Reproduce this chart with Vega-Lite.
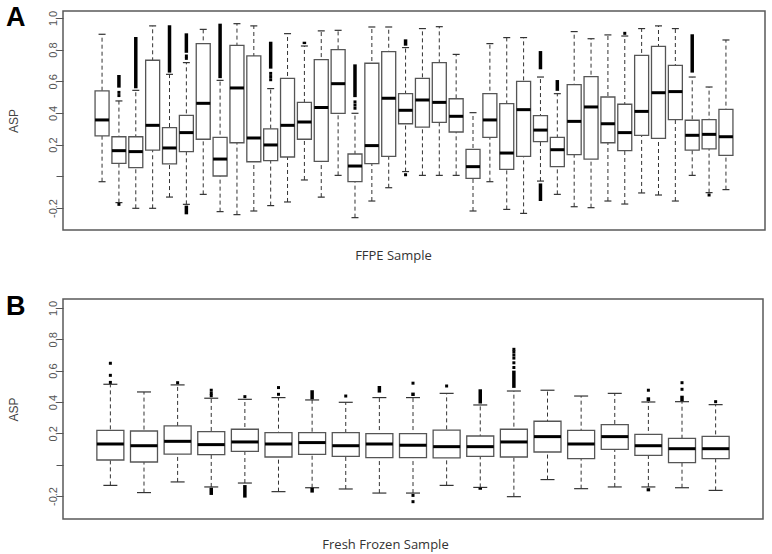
{
  "$schema": "https://vega.github.io/schema/vega-lite/v6.json",
  "padding": {"left": 5, "top": 3, "right": 0, "bottom": 0},
  "spacing": 29,
  "config": {
    "view": {"stroke": "#5a5a5a", "strokeWidth": 1.5},
    "axis": {"labelFont": "Liberation Sans", "labelFontSize": 11, "labelColor": "#555", "titleFont": "Liberation Sans", "titleFontSize": 12, "titleColor": "#444", "titleFontWeight": "normal", "tickColor": "#555", "tickSize": 7, "domain": false, "grid": false, "labelOverlap": false},
    "tick": {"opacity": 1},
    "point": {"opacity": 1}
  },
  "datasets": {
    "boxA": [
      {"i":1,"lo":-0.034,"q1":0.255,"med":0.356,"q3":0.539,"hi":0.897},
      {"i":2,"lo":-0.166,"q1":0.082,"med":0.162,"q3":0.250,"hi":0.476},
      {"i":3,"lo":-0.202,"q1":0.055,"med":0.156,"q3":0.250,"hi":0.543},
      {"i":4,"lo":-0.202,"q1":0.166,"med":0.322,"q3":0.733,"hi":0.950},
      {"i":5,"lo":-0.131,"q1":0.078,"med":0.179,"q3":0.307,"hi":0.644},
      {"i":6,"lo":-0.177,"q1":0.156,"med":0.276,"q3":0.385,"hi":0.718},
      {"i":7,"lo":-0.114,"q1":0.234,"med":0.461,"q3":0.838,"hi":0.928},
      {"i":8,"lo":-0.223,"q1":0.002,"med":0.109,"q3":0.246,"hi":0.606},
      {"i":9,"lo":-0.242,"q1":0.212,"med":0.558,"q3":0.827,"hi":0.964},
      {"i":10,"lo":-0.219,"q1":0.092,"med":0.242,"q3":0.760,"hi":0.950},
      {"i":11,"lo":-0.185,"q1":0.099,"med":0.198,"q3":0.299,"hi":0.554},
      {"i":12,"lo":-0.162,"q1":0.122,"med":0.322,"q3":0.619,"hi":0.901},
      {"i":13,"lo":-0.023,"q1":0.234,"med":0.343,"q3":0.467,"hi":0.823},
      {"i":14,"lo":-0.131,"q1":0.095,"med":0.434,"q3":0.737,"hi":0.918},
      {"i":15,"lo":0.006,"q1":0.398,"med":0.585,"q3":0.800,"hi":0.922},
      {"i":16,"lo":-0.261,"q1":-0.034,"med":0.065,"q3":0.141,"hi":0.398},
      {"i":17,"lo":-0.156,"q1":0.080,"med":0.194,"q3":0.714,"hi":0.943},
      {"i":18,"lo":-0.072,"q1":0.126,"med":0.493,"q3":0.787,"hi":0.943},
      {"i":19,"lo":0.030,"q1":0.332,"med":0.417,"q3":0.522,"hi":0.813},
      {"i":20,"lo":0.006,"q1":0.311,"med":0.482,"q3":0.619,"hi":0.933},
      {"i":21,"lo":0.006,"q1":0.341,"med":0.467,"q3":0.718,"hi":0.945},
      {"i":22,"lo":0.006,"q1":0.280,"med":0.379,"q3":0.490,"hi":0.770},
      {"i":23,"lo":-0.219,"q1":-0.013,"med":0.061,"q3":0.170,"hi":0.402},
      {"i":24,"lo":-0.034,"q1":0.246,"med":0.356,"q3":0.522,"hi":0.838},
      {"i":25,"lo":-0.209,"q1":0.044,"med":0.147,"q3":0.459,"hi":0.876},
      {"i":26,"lo":-0.234,"q1":0.126,"med":0.421,"q3":0.600,"hi":0.876},
      {"i":27,"lo":-0.030,"q1":0.219,"med":0.292,"q3":0.383,"hi":0.627},
      {"i":28,"lo":-0.114,"q1":0.061,"med":0.168,"q3":0.246,"hi":0.522},
      {"i":29,"lo":-0.192,"q1":0.137,"med":0.347,"q3":0.579,"hi":0.914},
      {"i":30,"lo":-0.198,"q1":0.109,"med":0.438,"q3":0.629,"hi":0.869},
      {"i":31,"lo":-0.156,"q1":0.212,"med":0.332,"q3":0.501,"hi":0.893},
      {"i":32,"lo":-0.175,"q1":0.162,"med":0.276,"q3":0.455,"hi":0.886},
      {"i":33,"lo":-0.105,"q1":0.259,"med":0.410,"q3":0.764,"hi":0.933},
      {"i":34,"lo":-0.118,"q1":0.240,"med":0.528,"q3":0.821,"hi":0.950},
      {"i":35,"lo":-0.156,"q1":0.358,"med":0.535,"q3":0.701,"hi":0.933},
      {"i":36,"lo":0.006,"q1":0.166,"med":0.259,"q3":0.354,"hi":0.627},
      {"i":37,"lo":-0.103,"q1":0.173,"med":0.265,"q3":0.358,"hi":0.564},
      {"i":38,"lo":-0.084,"q1":0.132,"med":0.250,"q3":0.423,"hi":0.861}
    ],
    "outA": [
      {"i":2,"lo":0.56,"hi":0.64},
      {"i":3,"lo":0.556,"hi":0.88},
      {"i":5,"lo":0.655,"hi":0.954},
      {"i":6,"lo":0.78,"hi":0.903},
      {"i":6,"lo":-0.24,"hi":-0.185},
      {"i":8,"lo":0.62,"hi":0.964},
      {"i":11,"lo":0.68,"hi":0.85},
      {"i":13,"lo":0.835,"hi":0.85},
      {"i":16,"lo":0.50,"hi":0.707},
      {"i":19,"lo":0.825,"hi":0.865},
      {"i":27,"lo":0.676,"hi":0.791},
      {"i":27,"lo":-0.156,"hi":-0.045},
      {"i":28,"lo":0.54,"hi":0.608},
      {"i":36,"lo":0.655,"hi":0.897}
    ],
    "ptA": [
      {"i":2,"y":0.53},{"i":2,"y":0.51},{"i":2,"y":-0.177},
      {"i":6,"y":0.76},{"i":6,"y":0.745},
      {"i":11,"y":0.65},{"i":11,"y":0.63},{"i":11,"y":0.61},
      {"i":16,"y":0.47},{"i":16,"y":0.45},{"i":16,"y":0.43},
      {"i":19,"y":0.01},{"i":32,"y":0.903},{"i":37,"y":-0.118}
    ],
    "boxB": [
      {"i":1,"lo":-0.132,"q1":0.030,"med":0.132,"q3":0.219,"hi":0.513},
      {"i":2,"lo":-0.178,"q1":0.017,"med":0.121,"q3":0.215,"hi":0.464},
      {"i":3,"lo":-0.110,"q1":0.068,"med":0.149,"q3":0.247,"hi":0.509},
      {"i":4,"lo":-0.142,"q1":0.064,"med":0.128,"q3":0.211,"hi":0.424},
      {"i":5,"lo":-0.117,"q1":0.085,"med":0.145,"q3":0.226,"hi":0.417},
      {"i":6,"lo":-0.172,"q1":0.049,"med":0.132,"q3":0.204,"hi":0.428},
      {"i":7,"lo":-0.147,"q1":0.066,"med":0.141,"q3":0.204,"hi":0.413},
      {"i":8,"lo":-0.155,"q1":0.053,"med":0.121,"q3":0.204,"hi":0.398},
      {"i":9,"lo":-0.181,"q1":0.045,"med":0.132,"q3":0.198,"hi":0.428},
      {"i":10,"lo":-0.181,"q1":0.045,"med":0.124,"q3":0.198,"hi":0.428},
      {"i":11,"lo":-0.132,"q1":0.043,"med":0.115,"q3":0.221,"hi":0.455},
      {"i":12,"lo":-0.145,"q1":0.053,"med":0.115,"q3":0.183,"hi":0.381},
      {"i":13,"lo":-0.204,"q1":0.049,"med":0.145,"q3":0.226,"hi":0.470},
      {"i":14,"lo":-0.095,"q1":0.081,"med":0.179,"q3":0.277,"hi":0.475},
      {"i":15,"lo":-0.153,"q1":0.039,"med":0.132,"q3":0.219,"hi":0.438},
      {"i":16,"lo":-0.142,"q1":0.098,"med":0.179,"q3":0.255,"hi":0.455},
      {"i":17,"lo":-0.142,"q1":0.060,"med":0.121,"q3":0.194,"hi":0.400},
      {"i":18,"lo":-0.147,"q1":0.013,"med":0.102,"q3":0.168,"hi":0.402},
      {"i":19,"lo":-0.164,"q1":0.039,"med":0.102,"q3":0.181,"hi":0.383}
    ],
    "outB": [
      {"i":4,"lo":-0.193,"hi":-0.147},
      {"i":5,"lo":-0.21,"hi":-0.13},
      {"i":7,"lo":0.417,"hi":0.475},
      {"i":7,"lo":-0.178,"hi":-0.147},
      {"i":9,"lo":0.46,"hi":0.502},
      {"i":10,"lo":0.438,"hi":0.46},
      {"i":12,"lo":0.39,"hi":0.481},
      {"i":12,"lo":-0.16,"hi":-0.147},
      {"i":13,"lo":0.49,"hi":0.60},
      {"i":17,"lo":0.405,"hi":0.43},
      {"i":17,"lo":-0.17,"hi":-0.15},
      {"i":18,"lo":0.405,"hi":0.44}
    ],
    "ptB": [
      {"i":1,"y":0.647},{"i":1,"y":0.570},{"i":1,"y":0.525},
      {"i":3,"y":0.523},
      {"i":4,"y":0.475},{"i":4,"y":0.455},{"i":4,"y":0.44},
      {"i":5,"y":0.434},
      {"i":6,"y":0.492},{"i":6,"y":0.449},
      {"i":8,"y":0.438},
      {"i":10,"y":0.52},{"i":10,"y":-0.196},{"i":10,"y":-0.236},
      {"i":11,"y":0.502},
      {"i":13,"y":0.62},{"i":13,"y":0.65},{"i":13,"y":0.68},{"i":13,"y":0.70},{"i":13,"y":0.72},{"i":13,"y":0.736},
      {"i":17,"y":0.475},
      {"i":18,"y":0.481},{"i":18,"y":0.523},
      {"i":19,"y":0.402}
    ]
  },
  "vconcat": [
    {
      "width": 702,
      "height": 219,
      "title": {"text": "A", "orient": "left", "anchor": "end", "angle": 0, "align": "right", "baseline": "top", "offset": -14, "dx": 24, "dy": -5, "fontSize": 27, "fontWeight": "bold", "font": "Liberation Sans", "color": "#000"},
      "encoding": {
        "x": {"field": "i", "type": "quantitative", "scale": {"domain": [-1.02, 40.02], "nice": false, "zero": false},
              "axis": {"title": "FFPE Sample", "labels": false, "ticks": false, "domain": false, "titlePadding": 19, "titleX": 330, "titleAlign": "center", "titleFont": "Open Sans", "titleFontSize": 13, "titleColor": "#333"}}
      },
      "layer": [
        {"data": {"name": "boxA"}, "mark": {"type": "rule", "strokeDash": [4, 3], "color": "#333", "strokeWidth": 1},
         "encoding": {"y": {"field": "lo", "type": "quantitative", "scale": {"domain": [-0.339, 1.044], "nice": false, "zero": false},
            "axis": {"values": [-0.2, 0, 0.2, 0.4, 0.6, 0.8, 1.0], "tickCount": 12, "labelExpr": "datum.value === 0 ? '' : replace(format(datum.value, '.1f'), '\u2212', '-')", "labelOverlap": false, "labelAngle": -90, "labelAlign": "center", "labelBaseline": "alphabetic", "labelPadding": 0, "title": "ASP", "titlePadding": 27}},
           "y2": {"field": "hi"}}},
        {"data": {"name": "boxA"}, "mark": {"type": "tick", "orient": "horizontal", "size": 7, "thickness": 1.2, "color": "#333"},
         "encoding": {"y": {"field": "lo", "type": "quantitative"}}},
        {"data": {"name": "boxA"}, "mark": {"type": "tick", "orient": "horizontal", "size": 7, "thickness": 1.2, "color": "#333"},
         "encoding": {"y": {"field": "hi", "type": "quantitative"}}},
        {"data": {"name": "boxA"}, "mark": {"type": "bar", "size": 14, "fill": "white", "stroke": "#555", "strokeWidth": 1.3},
         "encoding": {"y": {"field": "q1", "type": "quantitative"}, "y2": {"field": "q3"}}},
        {"data": {"name": "boxA"}, "mark": {"type": "tick", "orient": "horizontal", "size": 14, "thickness": 3, "color": "#000"},
         "encoding": {"y": {"field": "med", "type": "quantitative"}}},
        {"data": {"name": "outA"}, "mark": {"type": "rule", "strokeWidth": 3.5, "color": "#000"},
         "encoding": {"y": {"field": "lo", "type": "quantitative"}, "y2": {"field": "hi"}}},
        {"data": {"name": "ptA"}, "mark": {"type": "point", "shape": "square", "filled": true, "size": 9, "color": "#000"},
         "encoding": {"y": {"field": "y", "type": "quantitative"}}}
      ]
    },
    {
      "width": 700,
      "height": 220,
      "title": {"text": "B", "orient": "left", "anchor": "end", "angle": 0, "align": "right", "baseline": "top", "offset": -14, "dx": 24, "dy": -5, "fontSize": 27, "fontWeight": "bold", "font": "Liberation Sans", "color": "#000"},
      "encoding": {
        "x": {"field": "i", "type": "quantitative", "scale": {"domain": [-0.26, 20.26], "nice": false, "zero": false},
              "axis": {"title": "Fresh Frozen Sample", "labels": false, "ticks": false, "domain": false, "titlePadding": 19, "titleX": 322, "titleAlign": "center", "titleFont": "Open Sans", "titleFontSize": 13, "titleColor": "#333"}}
      },
      "layer": [
        {"data": {"name": "boxB"}, "mark": {"type": "rule", "strokeDash": [4, 3], "color": "#333", "strokeWidth": 1},
         "encoding": {"y": {"field": "lo", "type": "quantitative", "scale": {"domain": [-0.3465, 1.057], "nice": false, "zero": false},
            "axis": {"values": [-0.2, 0, 0.2, 0.4, 0.6, 0.8, 1.0], "tickCount": 12, "labelExpr": "datum.value === 0 ? '' : replace(format(datum.value, '.1f'), '\u2212', '-')", "labelOverlap": false, "labelAngle": -90, "labelAlign": "center", "labelBaseline": "alphabetic", "labelPadding": 0, "title": "ASP", "titlePadding": 27}},
           "y2": {"field": "hi"}}},
        {"data": {"name": "boxB"}, "mark": {"type": "tick", "orient": "horizontal", "size": 14, "thickness": 1.2, "color": "#333"},
         "encoding": {"y": {"field": "lo", "type": "quantitative"}}},
        {"data": {"name": "boxB"}, "mark": {"type": "tick", "orient": "horizontal", "size": 14, "thickness": 1.2, "color": "#333"},
         "encoding": {"y": {"field": "hi", "type": "quantitative"}}},
        {"data": {"name": "boxB"}, "mark": {"type": "bar", "size": 27, "fill": "white", "stroke": "#555", "strokeWidth": 1.3},
         "encoding": {"y": {"field": "q1", "type": "quantitative"}, "y2": {"field": "q3"}}},
        {"data": {"name": "boxB"}, "mark": {"type": "tick", "orient": "horizontal", "size": 27, "thickness": 3, "color": "#000"},
         "encoding": {"y": {"field": "med", "type": "quantitative"}}},
        {"data": {"name": "outB"}, "mark": {"type": "rule", "strokeWidth": 3.5, "color": "#000"},
         "encoding": {"y": {"field": "lo", "type": "quantitative"}, "y2": {"field": "hi"}}},
        {"data": {"name": "ptB"}, "mark": {"type": "point", "shape": "square", "filled": true, "size": 9, "color": "#000"},
         "encoding": {"y": {"field": "y", "type": "quantitative"}}}
      ]
    }
  ]
}
